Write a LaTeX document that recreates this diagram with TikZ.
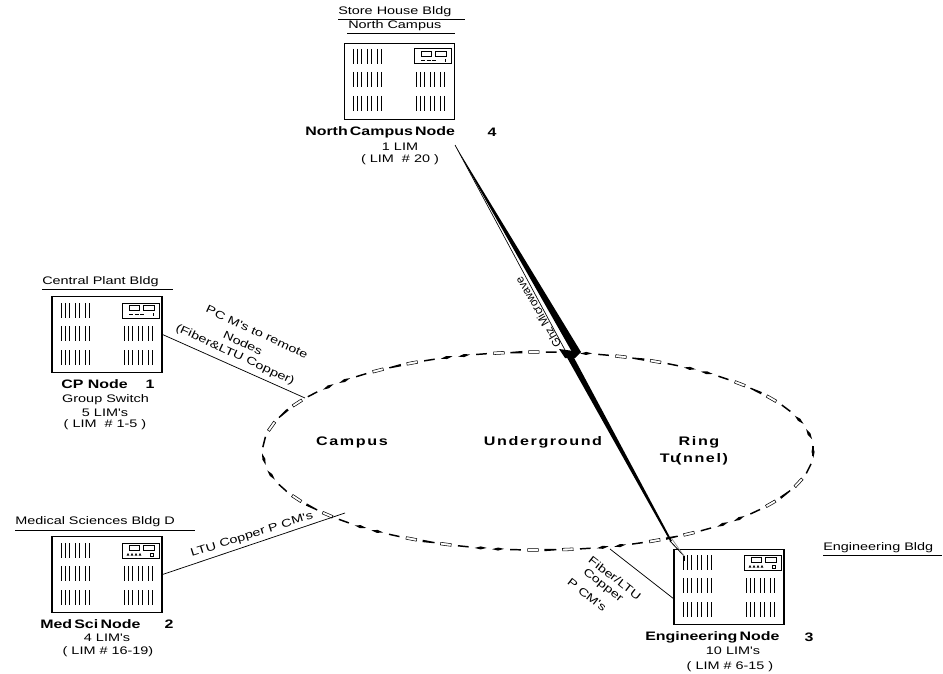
\documentclass[tikz,border=0pt]{standalone}
\usepackage{fontspec}
\usetikzlibrary{decorations.markings}
\setmainfont{Liberation Sans}
\newfontfamily\labf{Liberation Sans}[FakeStretch=1.32]
\newfontfamily\boldf{Liberation Sans Bold}[FakeStretch=1.3,WordSpace=0.5]
\newfontfamily\ringf{Liberation Sans Bold}[FakeStretch=1.3,LetterSpace=13]
\newcommand\rackbody[3]{%
  \begin{scope}[shift={(#1,#2)},line width=.75pt]
    \foreach \cx/\cy in {9/6,9/29,9/53,72/29,72/53}
      \foreach \dx in {0,4,8,14,18,24,28}
        \draw (\cx+\dx,\cy) -- (\cx+\dx,\cy+15);
    \draw[fill=white] (70,6) rectangle (107,21);
    \draw[line width=.5pt] (77,8) rectangle (87,13) (91,8) rectangle (102,13);
    \ifnum#3=0
      \draw[line width=.5pt,dash pattern=on 3pt off 1.2pt] (77,17) -- (92,17);
      \draw[line width=.5pt] (101,16) -- (101,19);
    \else
      \foreach \tx in {76,80,84,88}
        \fill (\tx-1.3,18.5) -- (\tx+1.3,18.5) -- (\tx,16) -- cycle;
      \draw[line width=.5pt] (98,16.5) rectangle (101,19.5);
    \fi
  \end{scope}}
\tikzset{
  x=.75pt,y=-.75pt,
  rackbox/.style={draw,line width=.8pt,inner sep=0,minimum width=82.5pt,minimum height=56.8pt,fill=white},
  lab/.style={inner sep=0,font=\fontsize{8.2}{9}\labf},
  nodetitle/.style={inner sep=0,font=\fontsize{9.2}{10}\boldf},
  ringlab/.style={inner sep=0,font=\fontsize{9.3}{10}\ringf},
  uline/.style={line width=.55pt},
  conn/.style={line width=.55pt},
  ringmark/.style={decoration={markings,mark=between positions 0 and 1 step 13.1pt with {%
    \pgfmathtruncatemacro\kk{mod(\pgfkeysvalueof{/pgf/decoration/mark info/sequence number}*\pgfkeysvalueof{/pgf/decoration/mark info/sequence number}+2*\pgfkeysvalueof{/pgf/decoration/mark info/sequence number},7)}%
    \ifnum\kk=0 \draw[line width=.4pt,fill=white] (-4pt,-1pt) rectangle (4pt,1pt);
    \else\ifnum\kk=1 \fill (-4.5pt,-.4pt) -- (0pt,-1.2pt) -- (4.5pt,.3pt) -- (0pt,1.1pt) -- cycle;
    \else\ifnum\kk=3 \draw[line width=1.1pt] (-4pt,0pt) -- (4pt,0pt);
    \else \fill (-4.5pt,-.9pt) -- (4.5pt,-.4pt) -- (4.5pt,.6pt) -- (-4.5pt,.9pt) -- cycle;
    \fi\fi\fi}},postaction=decorate}
}
\begin{document}
\begin{tikzpicture}
\useasboundingbox (0,0) rectangle (943,674);
% ring
\path[ringmark] (538,451) ellipse [x radius=206.25pt,y radius=74.25pt];
% racks
\node[rackbox] (north) at (399.5,81.5) {};
\node[rackbox] (cp) at (107,334.5) {};
\node[rackbox] (med) at (107,574.5) {};
\node[rackbox] (eng) at (729,587) {};
\rackbody{344}{43}{0}
\rackbody{52}{297}{0}
\rackbody{52}{537}{1}
\rackbody{674}{549}{1}
% building labels
\node[lab,anchor=west] (t1) at (338,12) {Store House Bldg};
\node[lab,anchor=west] (t2) at (348,26) {North Campus};
\draw[uline] (t1.south west)++(0,2.5) coordinate (u1) -- ++(127,0);
\draw[uline] (t2.south west)++(-1,2.5) coordinate (u2) -- ++(108,0);
\node[lab,anchor=west] (t3) at (42,282) {Central Plant Bldg};
\draw[uline] (t3.south west)++(0,2) coordinate (u3) -- ++(131,0);
\node[lab,anchor=west] (t4) at (15,522) {Medical Sciences Bldg D};
\draw[uline] (t4.south west)++(0,3) coordinate (u4) -- ++(180,0);
\node[lab,anchor=west] (t5) at (823,548) {Engineering Bldg};
\draw[uline] (t5.south west)++(0,2) coordinate (u5) -- ++(119,0);
% node titles
\node[nodetitle,anchor=west] (n4) at (305,132) {North Campus Node};
\node[nodetitle] (n4b) at (492,132) {4};
\node[lab] (n4c) at (400,147) {1 LIM};
\node[lab] (n4d) at (400,160) {( LIM \ \# 20 )};
\node[nodetitle,anchor=west] (n1) at (61,384) {CP\ \ Node};
\node[nodetitle] (n1b) at (150,384) {1};
\node[lab] (n1c) at (105.5,400) {Group Switch};
\node[lab] (n1d) at (105,413) {5 LIM's};
\node[lab] (n1e) at (105,425) {( LIM \ \# 1-5 )};
\node[nodetitle,anchor=west] (n2) at (40,624) {Med Sci Node};
\node[nodetitle] (n2b) at (169,624) {2};
\node[lab] (n2c) at (107,638) {4 LIM's};
\node[lab] (n2d) at (108,652) {( LIM \# 16-19)};
\node[nodetitle,anchor=west] (n3) at (645,637) {Engineering Node};
\node[nodetitle] (n3b) at (809,637) {3};
\node[lab] (n3c) at (733,651) {10 LIM's};
\node[lab] (n3d) at (730,667) {( LIM \# 6-15 )};
% ring labels
\node[ringlab] (r1) at (352,442) {Campus};
\node[ringlab] (r2) at (543,442) {Underground};
\node[ringlab] (r3) at (699,442) {Ring};
\node[ringlab] (r4) at (694,459) {Tu\kern-3pt(nnel)};
% connectors
\coordinate (cpend) at (305,398);
\coordinate (medend) at (345,513);
\coordinate (engend) at (610,549);
\coordinate (engin) at (674,599);
\draw[conn] (cp.east) -- (cpend);
\draw[conn] (med.east) -- (medend);
\draw[conn] (engend) -- (engin);
% connector labels
\node[lab,rotate=-25] (l1) at (257,332) {PC M's to remote};
\node[lab,rotate=-25] (l2) at (243,343) {Nodes};
\node[lab,rotate=-25] (l3) at (235,355) {(Fiber\&LTU Copper)};
\node[lab,rotate=17.5] (l4) at (252,535) {LTU Copper P CM's};
\node[lab,rotate=-38] (l5) at (615,578) {Fiber/LTU};
\node[lab,rotate=-38] (l6) at (603,586) {Copper};
\node[lab,rotate=-38] (l7) at (587,595) {P CM's};
\node[inner sep=0,font=\fontsize{8.6}{9}\selectfont,rotate=120.5,anchor=east] (l8) at (518,278) {Ghz Microwave};
% microwave link
\coordinate (mwa) at (455,145);
\coordinate (mwb) at (684,556);
\fill (mwa) -- (581,352) -- (572,352) -- (472,176) -- cycle;
\draw[line width=.5pt] (mwa) -- (565,350);
\fill (559,349) -- (581,352) -- (575,358) -- (565,358) -- cycle;
\fill (565,354) -- (572,354) -- (672,541) -- (670,541) -- cycle;
\draw[line width=.6pt] (670,541) -- (mwb);
\draw[line width=.5pt,black!45] (672,539) -- (mwb);
\draw[line width=.6pt] (mwb) -- (684,561);
\end{tikzpicture}
\end{document}
